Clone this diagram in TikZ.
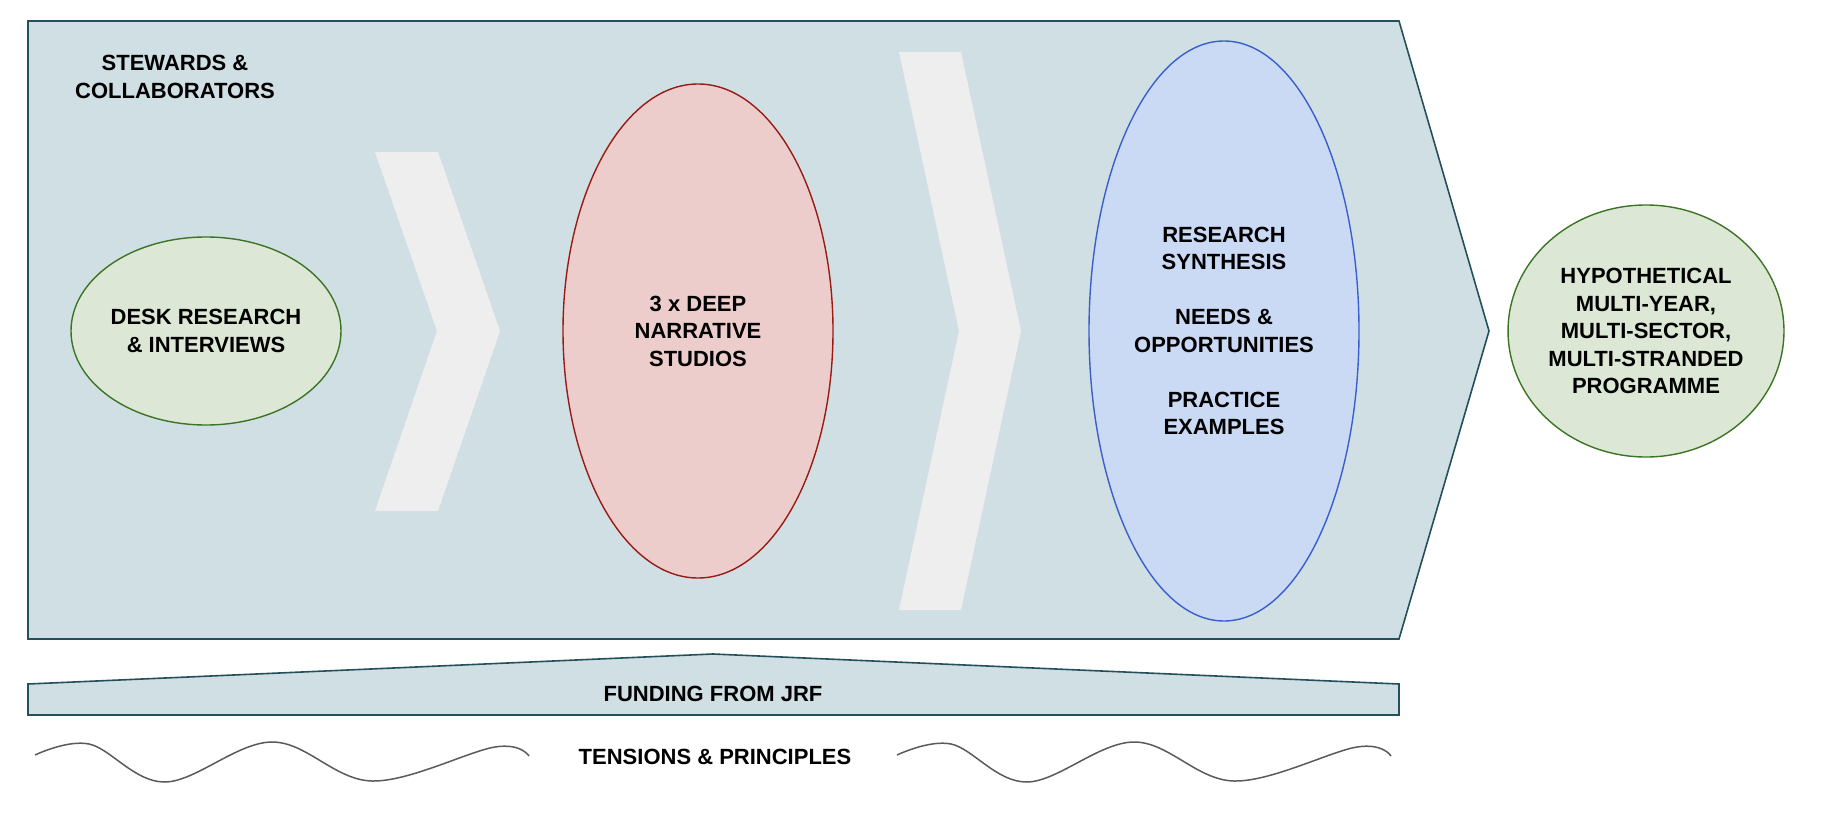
\documentclass[tikz,border=0pt]{standalone}
\usepackage{fontspec}
\setmainfont{Liberation Sans}
\usetikzlibrary{positioning, shapes.geometric}
\definecolor{PanelFill}{HTML}{D0DFE3}
\definecolor{PanelLine}{HTML}{24505C}
\definecolor{ChevFill}{HTML}{EEEEEE}
\definecolor{GreenFill}{HTML}{DCE8D5}
\definecolor{GreenLine}{HTML}{3C7424}
\definecolor{RedFill}{HTML}{EDCDCC}
\definecolor{RedLine}{HTML}{9A1A14}
\definecolor{BlueFill}{HTML}{CAD9F4}
\definecolor{BlueLine}{HTML}{3A5FCD}
\definecolor{WaveLine}{HTML}{5A5A5A}
\tikzset{
  panel/.style={draw=PanelLine, fill=PanelFill, line width=1.6pt},
  chev/.style={fill=ChevFill, draw=none},
  blob/.style={ellipse, line width=1.4pt, align=center, inner sep=0pt,
    font=\bfseries\fontsize{22}{27.5}\selectfont},
  gblob/.style={blob, draw=GreenLine, fill=GreenFill},
  rblob/.style={blob, draw=RedLine, fill=RedFill},
  bblob/.style={blob, draw=BlueLine, fill=BlueFill},
  lbl/.style={align=center, inner sep=0pt, font=\bfseries\fontsize{22}{27.5}\selectfont},
  wavy/.style={draw=WaveLine, line width=1.5pt},
}

\begin{document}
\begin{tikzpicture}[x=1pt, y=-1pt]
  \useasboundingbox (0,0) rectangle (1828,818);
  % main panel and the two chevrons
  \draw[panel] (28,21) -- (1399,21) -- (1489,331) -- (1399,639) -- (28,639) -- cycle;
  \fill[chev] (375,152) -- (438,152) -- (500,331) -- (438,511) -- (375,511) -- (437,331) -- cycle;
  \fill[chev] (899,52) -- (961,52) -- (1021,331) -- (961,610) -- (899,610) -- (959,331) -- cycle;

  \node[lbl] (stew) at (175,77) {STEWARDS \&\\COLLABORATORS};
  \node[gblob, minimum width=270pt, minimum height=188pt] (desk) at (206,331) {DESK RESEARCH\\\& INTERVIEWS};
  \node[rblob, minimum width=270pt, minimum height=494pt] (studio) at (698,331) {3 x DEEP\\NARRATIVE\\STUDIOS};
  \node[bblob, minimum width=270pt, minimum height=580pt] (synth) at (1224,331)
    {RESEARCH\\SYNTHESIS\\[27.5pt]NEEDS \&\\OPPORTUNITIES\\[27.5pt]PRACTICE\\EXAMPLES};
  \node[gblob, minimum width=270pt, minimum height=252pt] (prog) at (1646,331)
    {HYPOTHETICAL\\MULTI-YEAR,\\MULTI-SECTOR,\\MULTI-STRANDED\\PROGRAMME};

  % funding bar
  \draw[panel] (28,684) -- (713,654) -- (1399,684) -- (1399,715) -- (28,715) -- cycle;
  \node[lbl] (fund) at (713,694) {FUNDING FROM JRF};

  % tensions line
  \foreach \dx in {0,862}
    \draw[wavy, xshift=\dx] plot[smooth, tension=0.6] coordinates
      {(35,755) (89,744) (165,782) (272,742) (372,781) (495,747) (529,756)};
  \node[lbl] (tens) at (715,757) {TENSIONS \& PRINCIPLES};
\end{tikzpicture}
\end{document}
